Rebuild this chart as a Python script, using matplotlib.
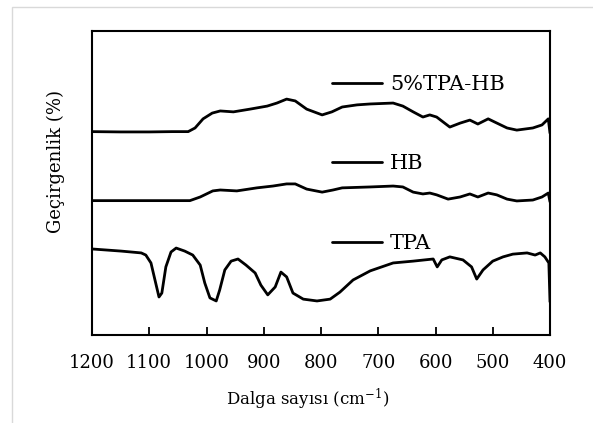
import matplotlib
matplotlib.use('Agg')
import matplotlib.pyplot as plt
from matplotlib.patches import Rectangle

plt.rcParams['font.family'] = 'DejaVu Serif'
plt.rcParams['mathtext.fontset'] = 'dejavuserif'

# wavenumber (cm-1) / transmittance (arbitrary, offset per sample)
w_tpahb = [1200, 1150, 1100, 1060, 1032, 1020, 1006, 990, 976, 953, 924, 894, 877, 860, 845,
           825, 798, 781, 763, 737, 714, 674, 657, 639, 622, 610, 598, 575, 557, 540,
           526, 508, 496, 475, 458, 430, 414, 403, 400]
t_tpahb = [66.9, 66.8, 66.8, 66.9, 66.9, 68.1, 71.1, 73.0, 73.7, 73.4, 74.3, 75.3, 76.3, 77.6, 77.0,
           74.3, 72.4, 73.4, 75.0, 75.7, 76.0, 76.3, 75.3, 73.4, 71.7, 72.4, 71.7, 68.4, 69.7, 70.7,
           69.4, 71.1, 70.0, 68.1, 67.4, 68.1, 69.1, 71.1, 66.4]

w_hb = [1200, 1100, 1029, 1011, 989, 976, 947, 912, 884, 860, 845, 825, 798, 779, 763,
        714, 674, 657, 639, 622, 610, 598, 578, 557, 540, 526, 508, 493, 475, 458,
        430, 414, 403, 400]
t_hb = [44.2, 44.2, 44.2, 45.4, 47.4, 47.7, 47.4, 48.4, 49.0, 49.7, 49.7, 48.0, 47.0, 47.7, 48.4,
        48.7, 49.0, 48.7, 47.0, 46.4, 46.7, 46.1, 44.7, 45.4, 46.4, 45.4, 46.7, 46.1, 44.7, 44.1,
        44.4, 45.4, 46.7, 43.8]

w_tpa = [1200, 1149, 1114, 1106, 1097, 1090, 1083, 1078, 1071, 1062, 1053, 1038, 1024, 1011, 1003,
         994, 983, 977, 968, 957, 945, 931, 915, 905, 893, 880, 870, 860, 849, 831,
         807, 784, 767, 744, 714, 674, 639, 604, 597, 589, 575, 552, 537, 528, 517,
         500, 482, 465, 440, 426, 417, 409, 402, 400]
t_tpa = [28.3, 27.6, 27.0, 26.3, 23.7, 18.1, 12.5, 13.8, 22.4, 27.3, 28.6, 27.6, 26.3, 23.0, 17.1,
         12.2, 11.2, 14.8, 21.4, 24.3, 25.0, 23.0, 20.4, 16.4, 13.2, 15.8, 20.7, 19.1, 13.8, 11.8,
         11.2, 11.8, 14.1, 18.1, 21.1, 23.7, 24.3, 25.0, 22.4, 24.7, 25.7, 24.7, 22.4, 18.4, 21.4,
         24.3, 25.7, 26.6, 27.0, 26.3, 27.0, 25.7, 23.7, 10.9]

xticks = [1200, 1100, 1000, 900, 800, 700, 600, 500, 400]

fig = plt.figure(figsize=(5.93, 4.23), dpi=100)
fig.patches.append(Rectangle((12/593, -0.1), 1.2, 1.1 - 7/423, transform=fig.transFigure,
                             fill=False, edgecolor='#d9d9d9', lw=1))
ax = fig.add_axes([92/593, 88/423, 458/593, 304/423])

for w, t, name in [(w_tpahb, t_tpahb, '5%TPA-HB'), (w_hb, t_hb, 'HB'), (w_tpa, t_tpa, 'TPA')]:
    ax.plot(w, t, color='black', lw=2.0, label=name,
            solid_joinstyle='round', solid_capstyle='round')

ax.set_xlim(1200, 400)
ax.set_ylim(0, 100)
ax.set_xticks(xticks)
ax.set_yticks([])
ax.tick_params(axis='x', direction='in', length=6, width=1.3, labelsize=13, pad=14)
for s in ax.spines.values():
    s.set_linewidth(1.5)

ax.set_xlabel('Dalga sayısı (cm$^{-1}$)', fontsize=12)
ax.xaxis.set_label_coords(0.47, -0.172)
ax.set_ylabel('Geçirgenlik (%)', fontsize=13)
ax.yaxis.set_label_coords(-0.059, 0.57)

ax.legend(loc='upper left', bbox_to_anchor=(0.524, 0.855), frameon=False, fontsize=15,
          handlelength=2.4, handletextpad=0.38, labelspacing=2.9, borderpad=0, borderaxespad=0)

fig.savefig('out.png', dpi=100)
